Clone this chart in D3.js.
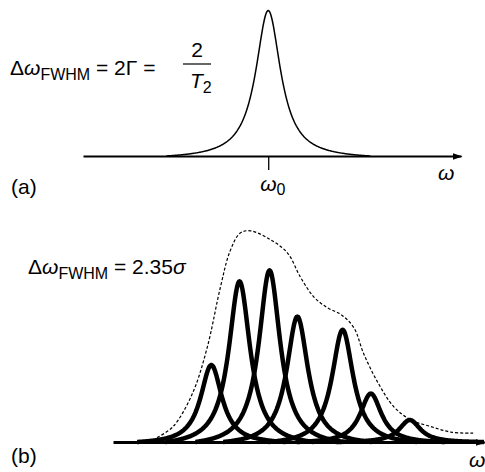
<!DOCTYPE html>
<html>
<head>
<meta charset="utf-8">
<script src="https://cdn.jsdelivr.net/npm/d3@7"></script>
<style>
    body { margin: 0; background: #fff; }
    text { font-family: "Liberation Sans", Arial, sans-serif; fill: #000; }
</style>
</head>
<body>
<div id="chart"></div>
<script>
'use strict';

// (a) single homogeneous line
const omega0 = 49;
const widthA = 4;          // half width (Gamma), axis units
const spanA = 27;          // how far the tail is drawn either side
const heightA = 1;

// (b) inhomogeneous set of lines
const peakCenters = [26.5, 34.1, 42.2, 49.7, 61.9, 69.5, 80.0];
const peakHeights = [0.35, 0.73, 0.78, 0.57, 0.51, 0.22, 0.10];
const widthB = 3.5;
const spanB = 20;

// dashed envelope
const envX = [11.9, 16.2, 21.4, 25.4, 28.9, 31.6, 34.3, 37.0, 42.4, 47.0, 50.5, 54.1, 57.8, 61.4, 64.9, 67.6, 71.4, 75.7, 80.3, 85.7, 91.1, 97.3];
const envY = [0.02, 0.07, 0.22, 0.43, 0.70, 0.87, 0.95, 0.96, 0.92, 0.86, 0.75, 0.66, 0.61, 0.58, 0.52, 0.40, 0.27, 0.16, 0.10, 0.07, 0.045, 0.04];

const W = 485, H = 472;
const fontMain = '21px', fontSub = '16px';

let svg = d3.select('#chart').append('svg')
    .attr('width', W)
    .attr('height', H)
;

svg.append('defs').append('marker')
    .attr('id', 'arrow')
    .attr('viewBox', '0 0 10 10')
    .attr('refX', 9)
    .attr('refY', 5)
    .attr('markerWidth', 10)
    .attr('markerHeight', 10)
    .attr('markerUnits', 'userSpaceOnUse')
    .attr('orient', 'auto')
    .append('path')
    .attr('d', 'M0,1.5 L10,5 L0,8.5 Z')
    .attr('fill', '#000')
;

function lorentz(c, h, g, span) {
    // line shape, shifted so the tail meets the axis at +-span
    let tail = 1 / (1 + (span / g) * (span / g));
    let pts = [];
    for (let x = c - span; x <= c + span + 1e-9; x += 0.2) {
        let u = (x - c) / g;
        pts.push({x: x, y: h * (1 / (1 + u * u) - tail) / (1 - tail)});
    }
    return pts;
}

// ---------- panel (a)
let xA = d3.scaleLinear().domain([0, 100]).range([83, 461]);
let yA = d3.scaleLinear().domain([0, 1]).range([156, 10.5]);

let axisA = d3.axisBottom(xA)
    .tickValues([omega0])
    .tickSize(14)
    .tickSizeOuter(0)
    .tickFormat('')
;

let gA = svg.append('g')
    .attr('transform', 'translate(0,' + yA(0) + ')')
    .call(axisA)
;
gA.select('.domain')
    .attr('stroke-width', 2)
    .attr('marker-end', 'url(#arrow)')
;
gA.selectAll('.tick line').attr('stroke-width', 1.3);

let lineA = d3.line()
    .x(function (d) { return xA(d.x); })
    .y(function (d) { return yA(d.y); })
;

svg.append('path')
    .datum(lorentz(omega0, heightA, widthA, spanA))
    .attr('d', lineA)
    .attr('fill', 'none')
    .attr('stroke', '#000')
    .attr('stroke-width', 1.5)
    .attr('stroke-linejoin', 'round')
;

// formula (a)
let fA = svg.append('text').attr('x', 10).attr('y', 75).style('font-size', fontMain);
fA.append('tspan').text('Δ');
fA.append('tspan').style('font-style', 'italic').text('ω');
fA.append('tspan').attr('dy', 5).style('font-size', fontSub).text('FWHM');
fA.append('tspan').attr('dy', -5).text(' = 2Γ = ');

svg.append('text')
    .attr('x', 197).attr('y', 57)
    .style('font-size', fontMain)
    .style('text-anchor', 'middle')
    .text('2')
;
svg.append('line')
    .attr('x1', 183).attr('x2', 211)
    .attr('y1', 64).attr('y2', 64)
    .attr('stroke', '#000')
    .attr('stroke-width', 1.2)
;
let den = svg.append('text').attr('x', 190).attr('y', 88).style('font-size', fontMain);
den.append('tspan').style('font-style', 'italic').text('T');
den.append('tspan').attr('dy', 5).style('font-size', fontSub).text('2');

svg.append('text').attr('x', 11).attr('y', 194).style('font-size', fontMain).text('(a)');

let w0 = svg.append('text').attr('x', xA(omega0) - 8).attr('y', 191).style('font-size', fontMain);
w0.append('tspan').style('font-style', 'italic').text('ω');
w0.append('tspan').attr('dy', 4).style('font-size', fontSub).text('0');

svg.append('text')
    .attr('x', 438).attr('y', 180)
    .style('font-size', fontMain)
    .style('font-style', 'italic')
    .text('ω')
;

// ---------- panel (b)
let xB = d3.scaleLinear().domain([0, 100]).range([113, 484]);
let yB = d3.scaleLinear().domain([0, 1]).range([442, 222]);

let axisB = d3.axisBottom(xB).tickValues([]).tickSizeOuter(0);

let gB = svg.append('g')
    .attr('transform', 'translate(0,' + yB(0) + ')')
    .call(axisB)
;
gB.select('.domain')
    .attr('stroke-width', 3)
    .attr('marker-end', 'url(#arrow)')
;

let lineB = d3.line()
    .x(function (d) { return xB(d.x); })
    .y(function (d) { return yB(d.y); })
;

let envelope = envX.map(function (x, i) { return {x: x, y: envY[i]}; });

svg.append('path')
    .datum(envelope)
    .attr('d', lineB.curve(d3.curveCatmullRom))
    .attr('fill', 'none')
    .attr('stroke', '#000')
    .attr('stroke-width', 1.2)
    .attr('stroke-dasharray', '3,2')
;

lineB.curve(d3.curveLinear);

svg.selectAll('.peak')
    .data(peakCenters)
    .enter()
    .append('path')
    .attr('class', 'peak')
    .attr('d', function (c, i) {
        return lineB(lorentz(c, peakHeights[i], widthB, spanB));
    })
    .attr('fill', 'none')
    .attr('stroke', '#000')
    .attr('stroke-width', 4.5)
    .attr('stroke-linejoin', 'round')
;

let fB = svg.append('text').attr('x', 28).attr('y', 274).style('font-size', fontMain);
fB.append('tspan').text('Δ');
fB.append('tspan').style('font-style', 'italic').text('ω');
fB.append('tspan').attr('dy', 5).style('font-size', fontSub).text('FWHM');
fB.append('tspan').attr('dy', -5).text(' = 2.35');
fB.append('tspan').style('font-style', 'italic').text('σ');

svg.append('text').attr('x', 11).attr('y', 463).style('font-size', fontMain).text('(b)');

svg.append('text')
    .attr('x', 469).attr('y', 467)
    .style('font-size', fontMain)
    .style('font-style', 'italic')
    .text('ω')
;
</script>
</body>
</html>
